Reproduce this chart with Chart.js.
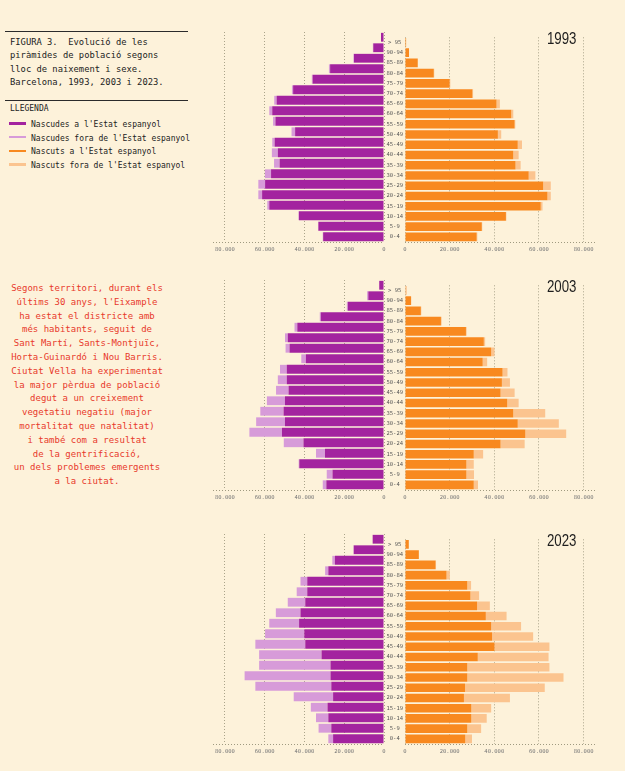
<!DOCTYPE html>
<html>
<head>
<meta charset="utf-8">
<script src="https://cdn.jsdelivr.net/npm/chart.js@4.4.1/dist/chart.umd.min.js"></script>
<style>
  html, body { margin: 0; padding: 0; background: #fdf2da; }
  #page { position: relative; width: 625px; height: 771px; overflow: hidden; font-family: 'DejaVu Sans Mono', monospace; }
  .rule { position: absolute; left: 5px; width: 183px; height: 1px; background: #2b2b2b; }
  #title { position: absolute; left: 10px; top: 36px; font-size: 8.8px; line-height: 13.4px; color: #222; white-space: pre; }
  #legTitle { position: absolute; left: 10px; top: 104px; font-size: 8px; color: #222; }
  #legend { position: absolute; left: 9px; top: 118px; font-size: 8px; color: #222; }
  #legend .item { height: 13.7px; line-height: 13.7px; white-space: pre; }
  #legend .sw { display: inline-block; width: 17px; height: 2.5px; vertical-align: middle; margin-right: 5px; position: relative; top: -1px; }
  #note { position: absolute; left: 0; width: 174px; top: 282px; font-size: 9px; line-height: 13.8px; color: #e8392b; text-align: center; }
  .box { position: absolute; }
  .year { position: absolute; font-family: 'Liberation Sans', Arial, sans-serif; font-size: 17px; line-height: 17px; color: #1e1e1e; transform: scaleX(0.78); transform-origin: left top; }
</style>
</head>
<body>
<div id="page">
  <div class="rule" style="top:31px"></div>
  <div id="title">FIGURA 3.  Evolució de les
piràmides de població segons
lloc de naixement i sexe.
Barcelona, 1993, 2003 i 2023.</div>
  <div class="rule" style="top:100px"></div>
  <div id="legTitle">LLEGENDA</div>
  <div id="legend"></div>
  <div id="note">Segons territori, durant els<br>últims 30 anys, l'Eixample<br>ha estat el districte amb<br>més habitants, seguit de<br>Sant Martí, Sants-Montjuïc,<br>Horta-Guinardó i Nou Barris.<br>Ciutat Vella ha experimentat<br>la major pèrdua de població<br>degut a un creixement<br>vegetatiu negatiu (major<br>mortalitat que natalitat)<br>i també com a resultat<br>de la gentrificació,<br>un dels problemes emergents<br>a la ciutat.</div>
</div>
<script>
// ---------- Data (people, top row = oldest) ----------
const AGES = ['> 95', '90-94', '85-89', '80-84', '75-79', '70-74', '65-69', '60-64', '55-59', '50-49',
  '45-49', '40-44', '35-39', '30-34', '25-29', '20-24', '15-19', '10-14', '5-9', '0-4'];
const YEARS = ['1993', '2003', '2023'];
const X_TICKS = [0, 20000, 40000, 60000, 80000];

// women born in Spain / born abroad
const F_ES_1993 = [1500, 5400, 15100, 27100, 35900, 45700, 54000, 56200, 54600, 44700, 55000, 53400, 52500, 56800, 59800, 61300, 57700, 42800, 33000, 30600];
const F_EX_1993 = [0, 200, 300, 600, 400, 600, 1200, 1500, 1200, 1800, 1200, 3000, 2800, 3100, 3400, 1900, 1000, 200, 200, 200];
const F_ES_2003 = [2400, 7900, 18200, 31800, 43600, 48400, 47500, 39300, 48900, 48900, 48000, 49800, 50500, 49800, 51300, 40500, 29700, 42600, 25900, 29000];
const F_EX_2003 = [0, 600, 500, 500, 1400, 1400, 2000, 2300, 3400, 4500, 6300, 9100, 11700, 14500, 16400, 9900, 4500, 300, 2900, 1800];
const F_ES_2023 = [5700, 15200, 24700, 28000, 38600, 38600, 39600, 42000, 42700, 40100, 39600, 31400, 26900, 26900, 26500, 25600, 28400, 28000, 26500, 25600];
const F_EX_2023 = [0, 200, 1300, 1600, 3400, 5300, 8800, 12400, 15000, 19700, 25100, 31400, 35900, 43200, 38200, 19800, 8400, 6200, 6400, 2400];

// men born in Spain / born abroad
const M_ES_1993 = [500, 1800, 5700, 12900, 20000, 30200, 41000, 47600, 49100, 41600, 50500, 48500, 49500, 55400, 61900, 63800, 60800, 45200, 34400, 32100];
const M_EX_1993 = [0, 0, 100, 200, 300, 300, 1500, 900, 300, 1500, 1900, 2400, 2300, 3000, 3400, 1500, 800, 200, 200, 300];
const M_ES_2003 = [300, 2700, 7100, 16100, 27300, 35300, 38600, 34800, 43700, 43400, 42800, 45800, 48500, 50500, 53900, 42800, 30800, 27500, 27500, 30800];
const M_EX_2003 = [500, 100, 200, 300, 300, 600, 1500, 2000, 2200, 3600, 6300, 5100, 14300, 18400, 18300, 10800, 4200, 3300, 3400, 1900];
const M_ES_2023 = [1700, 6200, 13700, 18600, 27900, 29300, 32300, 36200, 38600, 39000, 40100, 32600, 27900, 27900, 26900, 26400, 29700, 29700, 27900, 27000];
const M_EX_2023 = [0, 0, 200, 1500, 1700, 3900, 5700, 9300, 13400, 18400, 24600, 31700, 36800, 43100, 35700, 20600, 8900, 6900, 6200, 3000];

const LEGEND = ['Nascudes a l\'Estat espanyol', 'Nascudes fora de l\'Estat espanyol',
  'Nascuts a l\'Estat espanyol', 'Nascuts fora de l\'Estat espanyol'];
const COLORS = ['#a3239f', '#d79bd9', '#f8891f', '#fbc48f'];

const SERIES = {
  '1993': { f: [F_ES_1993, F_EX_1993], m: [M_ES_1993, M_EX_1993] },
  '2003': { f: [F_ES_2003, F_EX_2003], m: [M_ES_2003, M_EX_2003] },
  '2023': { f: [F_ES_2023, F_EX_2023], m: [M_ES_2023, M_EX_2023] },
};

// ---------- Layout ----------
const AREA_TOP = { '1993': 32, '2003': 280, '2023': 534 };
const AREA_H = 210;
const XAXIS_H = 14;

const page = document.getElementById('page');

// legend
const legEl = document.getElementById('legend');
LEGEND.forEach((t, i) => {
  const d = document.createElement('div');
  d.className = 'item';
  d.innerHTML = `<span class="sw" style="background:${COLORS[i]}"></span>${t}`;
  legEl.appendChild(d);
});

// dotted base line along the bottom of the plot area
const baseLine = {
  id: 'baseLine',
  beforeDatasetsDraw(chart) {
    const { ctx, chartArea: a } = chart;
    ctx.save();
    ctx.strokeStyle = '#9f9a80';
    ctx.lineWidth = 1;
    ctx.setLineDash([1, 2]);
    ctx.beginPath();
    ctx.moveTo(a.left, Math.round(a.bottom) + 0.5);
    ctx.lineTo(a.right, Math.round(a.bottom) + 0.5);
    ctx.stroke();
    ctx.restore();
  }
};

function fmtTick(v) {
  return v === 0 ? '0' : (v / 1000) + '.000';
}

function sideChart(year, side) {
  const left = side === 'f';
  const box = document.createElement('div');
  box.className = 'box';
  box.style.top = AREA_TOP[year] + 'px';
  box.style.height = (AREA_H + XAXIS_H) + 'px';
  box.style.left = left ? '192px' : '384px';
  box.style.width = left ? '194px' : '215px';
  const cv = document.createElement('canvas');
  box.appendChild(cv);
  page.appendChild(box);

  const s = SERIES[year][side];
  const colors = left ? [COLORS[0], COLORS[1]] : [COLORS[2], COLORS[3]];

  new Chart(cv, {
    type: 'bar',
    data: {
      labels: AGES,
      datasets: s.map((arr, i) => ({
        data: arr,
        backgroundColor: colors[i],
        borderWidth: 0,
        barPercentage: 0.84,
        categoryPercentage: 1,
      }))
    },
    options: {
      indexAxis: 'y',
      responsive: true,
      maintainAspectRatio: false,
      animation: false,
      layout: { padding: { left: 0, right: 2, top: 0, bottom: 0 } },
      plugins: { legend: { display: false }, tooltip: { enabled: false } },
      scales: {
        x: {
          stacked: true,
          reverse: left,
          min: 0,
          max: 86000,
          afterBuildTicks: sc => { sc.ticks = X_TICKS.map(v => ({ value: v })); },
          afterFit: sc => { sc.height = XAXIS_H; },
          grid: { color: '#aaa48a', drawTicks: false, lineWidth: 1 },
          border: { display: false, dash: [1, 2] },
          ticks: {
            padding: 4,
            color: '#777',
            font: { family: 'DejaVu Sans Mono', size: 5.5 },
            callback: v => fmtTick(v),
          }
        },
        y: {
          stacked: true,
          display: !left,
          afterFit: sc => { sc.width = 21; },
          grid: { display: false, drawTicks: false },
          border: { display: false },
          ticks: {
            padding: 2,
            crossAlign: 'center',
            color: '#555',
            font: { family: 'DejaVu Sans Mono', size: 5.5 },
          }
        }
      }
    },
    plugins: [baseLine]
  });
}

YEARS.forEach(y => {
  sideChart(y, 'f');
  sideChart(y, 'm');
  const yl = document.createElement('div');
  yl.className = 'year';
  yl.textContent = y;
  yl.style.left = '547px';
  yl.style.top = (AREA_TOP[y] - 2) + 'px';
  page.appendChild(yl);
});
</script>
</body>
</html>
